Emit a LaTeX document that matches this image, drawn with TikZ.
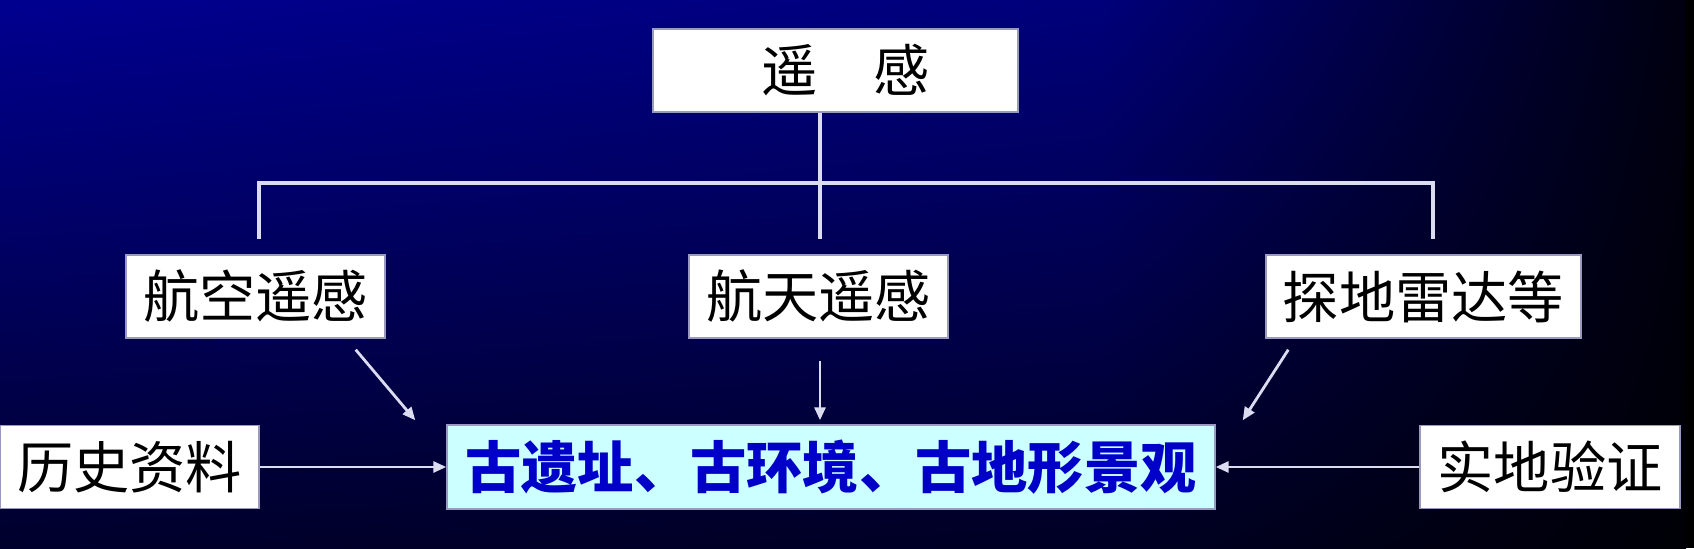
\documentclass[tikz,border=0pt]{standalone}
\usepackage{fontspec}
\newfontfamily\cjk{Noto Sans CJK SC}
\usetikzlibrary{arrows.meta,positioning,calc,shadings}
\definecolor{ygnavy}{HTML}{000090}
\definecolor{ygnavymid}{HTML}{00007A}
\definecolor{ygdeep}{HTML}{00002C}
\definecolor{ygdeepmid}{HTML}{000024}
\definecolor{ygdark}{HTML}{000010}
\definecolor{ygblack}{HTML}{000006}
\definecolor{ygline}{HTML}{DCDCF0}
\definecolor{ygedge}{HTML}{9A9AC0}
\definecolor{ygcyan}{HTML}{CCFFFF}
\definecolor{ygblue}{HTML}{0000C8}
\tikzset{
  bx/.style={draw=ygedge, line width=0.4pt, fill=white, inner sep=0pt, minimum height=8.3mm, font=\cjk\fontsize{16}{18}\selectfont, text=black},
  hub/.style={bx, fill=ygcyan, minimum height=8.4mm, text=ygblue, font=\cjk\bfseries\fontsize{16}{18}\selectfont},
  ln/.style={draw=ygline, line width=1pt},
  arr/.style={-{Triangle[length=1.3mm, width=1.1mm]}, line width=0.8pt, color=ygline},
}
\begin{document}
\begin{tikzpicture}
  % background
  \useasboundingbox (0,0) rectangle (16.94,5.48);
  \shade[upper left=ygnavy, upper right=ygnavymid, lower left=ygdeep, lower right=ygdeepmid] (0,0) rectangle (11.0,5.48);
  \shade[upper left=ygnavymid, upper right=ygdark, lower left=ygdeepmid, lower right=ygblack] (11.0,0) rectangle (16.86,5.48);
  \fill[black] (16.85,0) rectangle (16.94,5.48);
  % boxes
  \node[bx, minimum width=36.5mm] (yg) at (8.355,4.775) {\hspace{2mm}遥\quad 感};
  \node[bx, minimum width=25.9mm] (hk) at (2.555,2.515) {航空遥感};
  \node[bx, minimum width=25.9mm] (ht) at (8.185,2.515) {航天遥感};
  \node[bx, minimum width=31.5mm] (td) at (14.235,2.515) {探地雷达等};
  \node[hub, minimum width=76.8mm] (gj) at (8.31,0.81) {古遗址、古环境、古地形景观};
  \node[bx, minimum width=25.9mm] (ls) at (1.295,0.81) {历史资料};
  \node[bx, minimum width=26.0mm] (sd) at (15.50,0.81) {实地验证};
  % tree
  \coordinate (bl) at (2.59,3.65);
  \coordinate (br) at (14.33,3.65);
  \coordinate (el) at (2.59,3.09);
  \coordinate (er) at (14.33,3.09);
  \coordinate (ec) at (8.20,3.09);
  \draw[ln] (ec |- yg.south) -- (ec);
  \draw[ln] (el) -- (bl) -- (br) -- (er);
  % arrows
  \draw[arr] ([shift={(-0.30,-0.11)}]hk.south east) -- ([shift={(-0.31,0.04)}]gj.north west);
  \draw[arr] ([shift={(0.015,-0.22)}]ht.south) -- ([shift={(0.015,0.04)}]ht.south |- gj.north);
  \draw[arr] ([shift={(0.23,-0.11)}]td.south west) -- ([shift={(0.27,0.04)}]gj.north east);
  \draw[arr] (ls.east) -- (gj.west);
  \draw[arr] (sd.west) -- (gj.east);
\end{tikzpicture}
\end{document}
